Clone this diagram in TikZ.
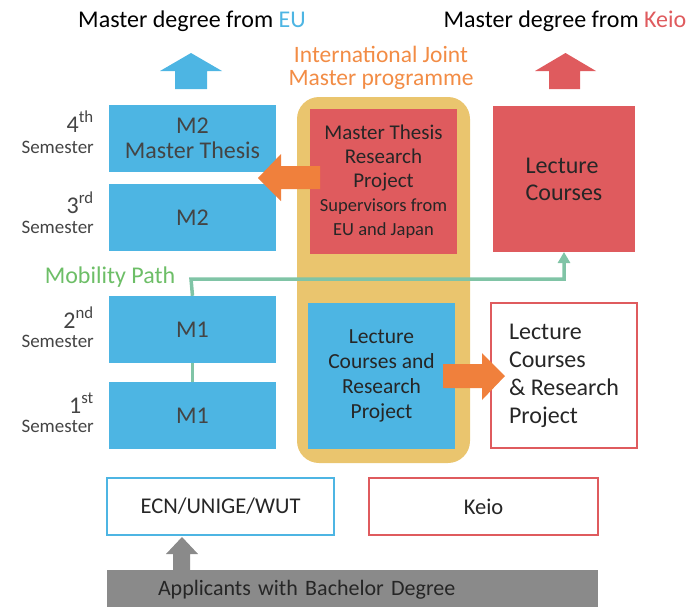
\documentclass[tikz,border=0pt]{standalone}
\usepackage{fontspec}
\setmainfont{Carlito}
\usetikzlibrary{arrows.meta}

\definecolor{eublue}{HTML}{4DB5E3}
\definecolor{keiored}{HTML}{DF5B5E}
\definecolor{jointyellow}{HTML}{EAC56E}
\definecolor{arroworange}{HTML}{F0803C}
\definecolor{pathgreen}{HTML}{80C4A6}
\definecolor{labelgreen}{HTML}{6DBE67}
\definecolor{titleorange}{HTML}{F28C45}
\definecolor{bargray}{HTML}{8A8A8A}
\definecolor{textgray}{HTML}{444444}

\tikzset{
  eubox/.style={fill=eublue, text=textgray, minimum width=167, minimum height=67, align=center, font=\fontsize{24}{25}\selectfont},
  semlabel/.style={anchor=base east, text=textgray, inner sep=0, align=right, font=\fontsize{19}{17}\selectfont},
  mobility/.style={pathgreen, line width=3.5pt},
}

\begin{document}
\begin{tikzpicture}[x=1pt,y=-1pt]
\useasboundingbox (0,0) rectangle (693,606);

% degrees
\node[anchor=base, font=\fontsize{24}{26}\selectfont] (eutitle) at (192,27) {Master degree from \textcolor{eublue}{EU}};
\node[anchor=base, font=\fontsize{24}{26}\selectfont] (keiotitle) at (565,27) {Master degree from \textcolor{keiored}{Keio}};
\fill[eublue] (160,71) -- (191,53) -- (222,71) -- (207,71) -- (207,89) -- (175,89) -- (175,71) -- cycle;
\fill[keiored] (535,71) -- (565.5,53) -- (596,71) -- (580,71) -- (580,89) -- (549,89) -- (549,71) -- cycle;

\node[text=titleorange, align=center, font=\fontsize{23.5}{23}\selectfont] (jointtitle) at (381,68) {International Joint\\Master programme};

% joint programme
\node[fill=jointyellow, rounded corners=22, minimum width=173, minimum height=366] (joint) at (383.5,280) {};

% mobility path
\coordinate (bend) at (191,279);
\coordinate (turn) at (564,279);
\node[eubox] (m1first) at (192.5,415.5) {M1};
\node[eubox] (m1second) at (192.5,329.5) {M1};
\draw[mobility] (m1first.north) -- (m1second.south);
\draw[mobility, -{Triangle[width=12pt,length=11pt]}] (m1second.north) -- (bend) -- (turn) -- (564,252);

\node[eubox] (m2thesis) at (192.5,138.5) {M2\\Master Thesis};
\node[eubox] (m2) at (192.5,217.5) {M2};

\node[text=labelgreen, anchor=base, font=\fontsize{24}{26}\selectfont] (mobility) at (110,283) {Mobility Path};

% semesters
\node[semlabel] (sem4) at (94,153) {{\fontsize{24}{25}\selectfont 4\textsuperscript{th}}\\[4pt]Semester};
\node[semlabel] (sem3) at (94,233) {{\fontsize{24}{25}\selectfont 3\textsuperscript{rd}}\\[3pt]Semester};
\node[semlabel] (sem2) at (94,347) {{\fontsize{24}{25}\selectfont 2\textsuperscript{nd}}\\[2pt]Semester};
\node[semlabel] (sem1) at (94,432) {{\fontsize{24}{25}\selectfont 1\textsuperscript{st}}\\[2pt]Semester};

% inside the joint programme
\node[fill=keiored, minimum width=147, minimum height=145, align=center, text=black!85, font=\fontsize{21}{24}\selectfont] (thesis) at (383.5,181.5)
  {Master Thesis\\Research\\Project\\{\fontsize{18.5}{23}\selectfont Supervisors from}\\{\fontsize{18.5}{23}\selectfont EU and Japan}};
\node[fill=eublue, minimum width=147, minimum height=146, align=center, text=black!85, font=\fontsize{21.5}{25}\selectfont] (lectresearch) at (381.5,376)
  {Lecture\\Courses and\\Research\\Project};

% keio side
\node[fill=keiored, minimum width=142, minimum height=146, align=left, text=black!85, font=\fontsize{24}{27}\selectfont] (lectkeio) at (564,179)
  {Lecture\\Courses};
\node[draw=keiored, line width=1.2pt, minimum width=146, minimum height=145, align=left, text=black!85, font=\fontsize{24}{28}\selectfont] (lectkeiors) at (564,375.5)
  {Lecture\\Courses\\\& Research\\Project};

% exchange arrows
\fill[arroworange] (258,178) -- (281,154) -- (281,166) -- (320,166) -- (320,189) -- (281,189) -- (281,201) -- cycle;
\fill[arroworange] (505,376) -- (482,353) -- (482,364) -- (443,364) -- (443,388) -- (482,388) -- (482,400) -- cycle;

% home universities
\node[draw=eublue, line width=1.2pt, minimum width=227, minimum height=57, text=black!85, font=\fontsize{22.5}{24}\selectfont] (home) at (220.5,506.5) {ECN/UNIGE/WUT};
\node[draw=keiored, line width=1.2pt, minimum width=229, minimum height=57, text=black!85, font=\fontsize{22.5}{24}\selectfont] (keio) at (483.5,506.5) {Keio};

% applicants
\fill[bargray] (173,570) -- (173,554) -- (166,554) -- (182,537) -- (198,554) -- (190,554) -- (190,570) -- cycle;
\node[fill=bargray, text width=389, inner xsep=51, minimum height=40, align=left, text=black!85, font=\fontsize{22}{24}\selectfont] (applicants) at (352.5,590)
  {Applicants with Bachelor Degree};

\end{tikzpicture}
\end{document}
